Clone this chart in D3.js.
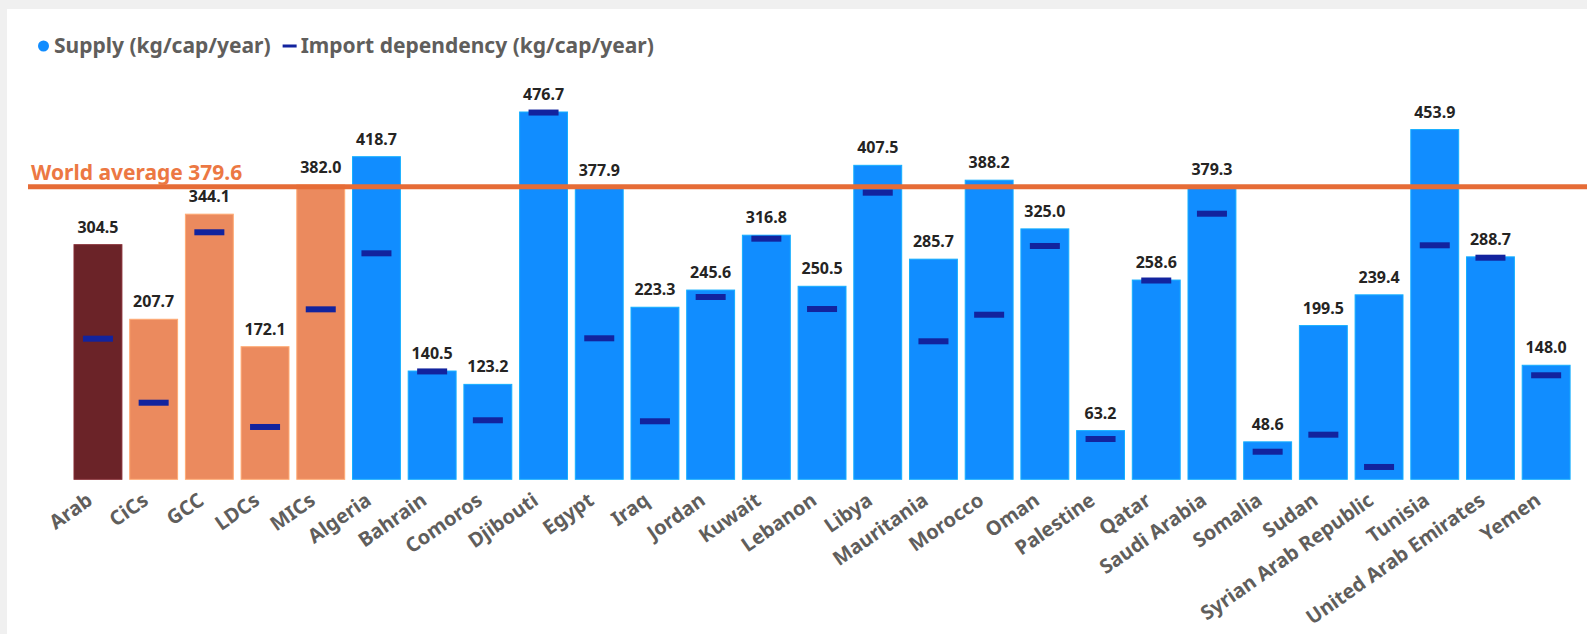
<!DOCTYPE html>
<html>
<head>
<meta charset="utf-8">
<script src="https://cdn.jsdelivr.net/npm/d3@7"></script>
<style>
  html, body { margin: 0; padding: 0; background: #f0f0f0; }
  svg { display: block; }
  text { font-family: "Noto Sans", "Open Sans", sans-serif; }
</style>
</head>
<body>
<svg id="chart" width="1587" height="634"></svg>
<script>
// Categories (regional aggregates first, then countries)
const categories = ["Arab", "CiCs", "GCC", "LDCs", "MICs", "Algeria", "Bahrain", "Comoros",
  "Djibouti", "Egypt", "Iraq", "Jordan", "Kuwait", "Lebanon", "Libya", "Mauritania",
  "Morocco", "Oman", "Palestine", "Qatar", "Saudi Arabia", "Somalia", "Sudan",
  "Syrian Arab Republic", "Tunisia", "United Arab Emirates", "Yemen"];

// Grouping used for bar colour
const groups = ["arab", "agg", "agg", "agg", "agg", "country", "country", "country",
  "country", "country", "country", "country", "country", "country", "country", "country",
  "country", "country", "country", "country", "country", "country", "country",
  "country", "country", "country", "country"];

// Supply (kg/cap/year)
const supply = [304.5, 207.7, 344.1, 172.1, 382.0, 418.7, 140.5, 123.2, 476.7, 377.9,
  223.3, 245.6, 316.8, 250.5, 407.5, 285.7, 388.2, 325.0, 63.2, 258.6, 379.3, 48.6,
  199.5, 239.4, 453.9, 288.7, 148.0];

// Import dependency (kg/cap/year)
const importDependency = [182.5, 99.4, 320.6, 67.9, 220.6, 293.3, 140.0, 76.6, 476.0, 183.0,
  75.3, 236.6, 312.3, 221.0, 372.0, 179.1, 213.6, 302.8, 52.3, 258.0, 344.7, 35.8,
  57.9, 16.0, 303.7, 287.6, 135.0];

// Reference line
const worldAverage = 379.6;
const worldAverageLabel = "World average 379.6";

// Legend entries
const legendLabels = ["Supply (kg/cap/year)", "Import dependency (kg/cap/year)"];

const data = categories.map((c, i) => ({
  name: c, group: groups[i], supply: supply[i], imp: importDependency[i]
}));

const colors = { arab: "#6B2328", agg: "#EB8A5E", country: "#118DFF" };
const markerColor = "#12239E";
const lineColor = "#E66C37";

const svg = d3.select("#chart");

// white card
svg.append("rect").attr("x", 7).attr("y", 9).attr("width", 1587 - 7).attr("height", 634 - 9)
  .attr("fill", "#ffffff");

const x = d3.scaleBand()
  .domain(categories)
  .range([70.1, 1574])
  .paddingInner(0.14)
  .paddingOuter(0.07);

const y = d3.scaleLinear()
  .domain([0, 500])
  .range([479.3, 479.3 - 500 * 0.7705]);

const g = svg.append("g");

// bars
g.selectAll("rect.bar")
  .data(data)
  .join("rect")
  .attr("class", "bar")
  .attr("x", d => x(d.name))
  .attr("width", x.bandwidth())
  .attr("y", d => y(d.supply))
  .attr("height", d => y(0) - y(d.supply))
  .attr("fill", d => colors[d.group])
  .attr("stroke", d => d3.color(colors[d.group]).brighter(0.6))
  .attr("stroke-width", 1);

// world average line
g.append("line")
  .attr("x1", 28).attr("x2", 1587)
  .attr("y1", y(worldAverage)).attr("y2", y(worldAverage))
  .attr("stroke", lineColor)
  .attr("stroke-width", 5);

g.append("text")
  .attr("x", 31)
  .attr("y", y(worldAverage) - 7)
  .attr("fill", "#EC7843")
  .attr("font-size", 21)
  .attr("font-weight", 700)
  .text(worldAverageLabel);

// import dependency markers
const markerW = 30, markerH = 6;
g.selectAll("rect.marker")
  .data(data)
  .join("rect")
  .attr("class", "marker")
  .attr("x", d => x(d.name) + x.bandwidth() / 2 - markerW / 2)
  .attr("width", markerW)
  .attr("y", d => y(d.imp) - markerH / 2)
  .attr("height", markerH)
  .attr("fill", markerColor);

// value labels
g.selectAll("text.value")
  .data(data)
  .join("text")
  .attr("class", "value")
  .attr("x", d => x(d.name) + x.bandwidth() / 2)
  .attr("y", d => y(d.supply) - 12)
  .attr("text-anchor", "middle")
  .attr("font-size", 16)
  .attr("font-weight", 700)
  .attr("fill", "#252423")
  .text(d => d.supply.toFixed(1));

// x axis labels
const xAxis = d3.axisBottom(x).tickSize(0).tickPadding(0);
const axisG = svg.append("g")
  .attr("transform", `translate(0,${y(0)})`)
  .call(xAxis);
axisG.select(".domain").remove();
axisG.selectAll(".tick text")
  .attr("font-family", "'Noto Sans', sans-serif")
  .attr("font-size", 20)
  .attr("font-weight", 700)
  .attr("fill", "#605E5C")
  .attr("text-anchor", "end")
  .attr("dy", 0)
  .attr("x", 0)
  .attr("y", 0)
  .attr("transform", "translate(-4,24) rotate(-35)");

// legend
const legend = svg.append("g").attr("transform", "translate(0,46)");
legend.append("circle").attr("cx", 43.5).attr("cy", 0).attr("r", 5.5).attr("fill", colors.country);
const t1 = legend.append("text")
  .attr("x", 54).attr("y", 0).attr("dy", "0.35em")
  .attr("font-size", 21).attr("font-weight", 700).attr("fill", "#605E5C")
  .text(legendLabels[0]);
const w1 = t1.node().getComputedTextLength();
legend.append("rect").attr("x", 54 + w1 + 12).attr("y", -1.5).attr("width", 14).attr("height", 3)
  .attr("fill", markerColor);
legend.append("text")
  .attr("x", 54 + w1 + 30).attr("y", 0).attr("dy", "0.35em")
  .attr("font-size", 21).attr("font-weight", 700).attr("fill", "#605E5C")
  .text(legendLabels[1]);
</script>
</body>
</html>
